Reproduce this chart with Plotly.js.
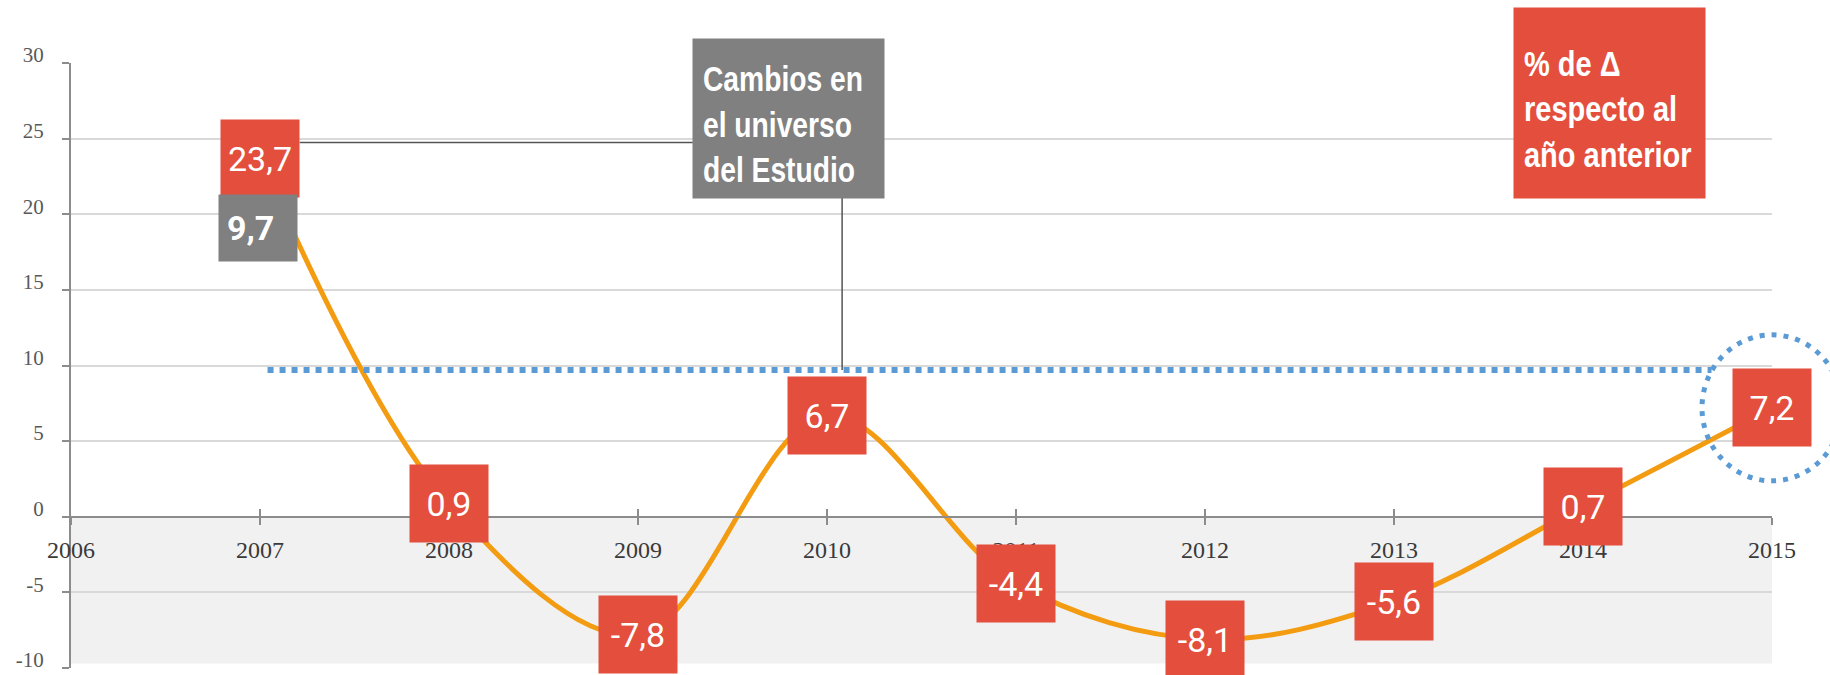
<!DOCTYPE html>
<html>
<head>
<meta charset="utf-8">
<script src="https://cdn.plot.ly/plotly-3.0.1.min.js"></script>
<style>html,body{margin:0;padding:0;background:#fff;}#chart{width:1830px;height:675px;}</style>
</head>
<body>
<div id="chart"></div>
<script>
// ---- data ----
var years = [2007, 2008, 2009, 2010, 2011, 2012, 2013, 2014, 2015];
var changePct = [23.7, 0.9, -7.8, 6.7, -4.4, -8.1, -5.6, 0.7, 7.2];
var universeChange = 9.7;
var xTickVals = [2006, 2007, 2008, 2009, 2010, 2011, 2012, 2013, 2014, 2015];
var xTickLabels = ['2006', '2007', '2008', '2009', '2010', '2011', '2012', '2013', '2014', '2015'];
var yTickVals = [-10, -5, 0, 5, 10, 15, 20, 25, 30];
var yTickLabels = ['-10', '-5', '0', '5', '10', '15', '20', '25', '30'];
var noteText = 'Cambios en<br>el universo<br>del Estudio';
var legendText = '% de \u0394<br>respecto al<br>año anterior';

var xRange = [2006, 2015];
var yRange = [-10, 30];
function fmt(v) { return v.toFixed(1).replace('.', ','); }

var RED = '#E44E3D', GREY = '#808080', ORANGE = '#F39C12', BLUE = '#5B9BD5';
var boxFont = '"Liberation Sans", Arial, sans-serif';
var numFont = 'Roboto, "Liberation Sans", Arial, sans-serif';

var traces = [
  {
    x: years, y: changePct, type: 'scatter', mode: 'lines',
    line: {color: ORANGE, width: 5, shape: 'spline', smoothing: 1},
    hoverinfo: 'skip'
  },
  {
    x: [years[0] + 0.04, 2014.68], y: [universeChange, universeChange],
    type: 'scatter', mode: 'lines',
    line: {color: BLUE, width: 6, dash: 'dot'}, hoverinfo: 'skip'
  },
  {
    x: years, y: changePct, xaxis: 'x2', yaxis: 'y', type: 'scatter', mode: 'lines',
    line: {width: 0}, opacity: 0, hoverinfo: 'skip'
  }
];

var annotations = [];
for (var i = 0; i < years.length; i++) {
  annotations.push({
    x: years[i], y: changePct[i], xref: 'x', yref: 'y',
    text: fmt(changePct[i]), showarrow: false,
    xanchor: 'center', yanchor: 'middle',
    width: 70, height: 69, borderpad: 4, bgcolor: RED,
    font: {family: numFont, size: 34, color: '#ffffff'}
  });
}
// grey box under first point
annotations.push({
  x: years[0], y: changePct[0], xref: 'x', yref: 'y', xshift: -2, yshift: -36,
  text: fmt(universeChange), showarrow: false, xanchor: 'center', yanchor: 'top',
  width: 62, height: 50, borderpad: 8, bgcolor: GREY, align: 'left',
  font: {family: numFont, size: 34, color: '#ffffff', weight: 'bold'}
});
// note box
annotations.push({
  x: 0.3651, y: 1.0413, xref: 'paper', yref: 'paper', xanchor: 'left', yanchor: 'top',
  text: noteText, showarrow: false, align: 'left', valign: 'middle',
  width: 171, height: 139, borderpad: 10, bgcolor: GREY,
  font: {family: boxFont, size: 35, color: '#ffffff', weight: 'bold'}
});
// legend box
annotations.push({
  x: 0.8477, y: 1.0926, xref: 'paper', yref: 'paper', xanchor: 'left', yanchor: 'top',
  text: legendText, showarrow: false, align: 'left', valign: 'middle',
  width: 171, height: 170, borderpad: 10, bgcolor: RED,
  font: {family: boxFont, size: 35, color: '#ffffff', weight: 'bold'}
});

var zeroPos = (0 - yRange[0]) / (yRange[1] - yRange[0]);
var lastX = (years[years.length - 1] - xRange[0]) / (xRange[1] - xRange[0]);
var lastY = (changePct[changePct.length - 1] - yRange[0]) / (yRange[1] - yRange[0]);

var shapes = [
  {type: 'rect', xref: 'x', yref: 'y', x0: xRange[0], x1: xRange[1], y0: -9.7, y1: 0,
   fillcolor: '#F1F1F1', line: {width: 0}, layer: 'below'},
  {type: 'line', xref: 'x', yref: 'y', x0: 2007.21, x1: 2009.29, y0: 24.75, y1: 24.75,
   line: {color: '#555555', width: 1.5}},
  {type: 'line', xref: 'x', yref: 'y', x0: 2010.08, x1: 2010.08, y0: 21.2, y1: universeChange,
   line: {color: '#555555', width: 1.5}},
  {type: 'circle', xref: 'paper', yref: 'paper',
   xsizemode: 'pixel', ysizemode: 'pixel', xanchor: lastX, yanchor: lastY,
   x0: -70, x1: 70, y0: -73, y1: 73,
   line: {color: BLUE, width: 5, dash: '5px,7px'}}
];

var layout = {
  width: 1830, height: 675,
  margin: {l: 71, r: 58, t: 63, b: 7},
  paper_bgcolor: '#ffffff', plot_bgcolor: '#ffffff',
  showlegend: false,
  xaxis: {
    range: xRange, anchor: 'free', position: zeroPos,
    tickvals: xTickVals, ticktext: xTickLabels,
    showgrid: false, zeroline: false,
    showline: true, linecolor: '#8c8c8c', linewidth: 2,
    ticks: 'outside', ticklen: 7, tickwidth: 2, tickcolor: '#8c8c8c',
    ticklabelstandoff: 4,
    tickfont: {family: '"Liberation Serif", "Times New Roman", serif', size: 24, color: '#3a3a3a'}
  },
  xaxis2: {
    range: xRange, overlaying: 'x', anchor: 'free', position: zeroPos,
    tickvals: xTickVals, showticklabels: false, showgrid: false, zeroline: false,
    showline: false, ticks: 'inside', ticklen: 8, tickwidth: 2, tickcolor: '#8c8c8c'
  },
  yaxis: {
    range: yRange, tickvals: yTickVals, ticktext: yTickLabels,
    showgrid: true, gridcolor: '#d9d9d9', gridwidth: 2, zeroline: false,
    showline: true, linecolor: '#8c8c8c', linewidth: 2,
    ticks: 'outside', ticklen: 7, tickwidth: 2, tickcolor: '#8c8c8c',
    ticklabelshift: -8, ticklabelstandoff: 14,
    tickfont: {family: '"Liberation Serif", "Times New Roman", serif', size: 21, color: '#595959'}
  },
  annotations: annotations,
  shapes: shapes
};

// target widths (px) of the widest line in each text box
var condenseTargets = {};
condenseTargets[annotations.length - 2] = 160;
condenseTargets[annotations.length - 1] = 168;

Plotly.newPlot('chart', traces, layout, {displayModeBar: false, staticPlot: true}).then(function (gd) {
  Object.keys(condenseTargets).forEach(function (idx) {
    var g = gd.querySelector('.annotation[data-index="' + idx + '"]');
    if (!g) return;
    var t = g.querySelector('text.annotation-text');
    if (!t) return;
    g.querySelectorAll('[clip-path]').forEach(function (el) { el.removeAttribute('clip-path'); });
    t.removeAttribute('clip-path');
    var bb = t.getBBox();
    var s = Math.min(1, condenseTargets[idx] / bb.width);
    var L = bb.x;
    t.setAttribute('transform', 'translate(' + L + ',6) scale(' + s + ',1) translate(' + (-L) + ',0)');
  });
});
</script>
</body>
</html>
